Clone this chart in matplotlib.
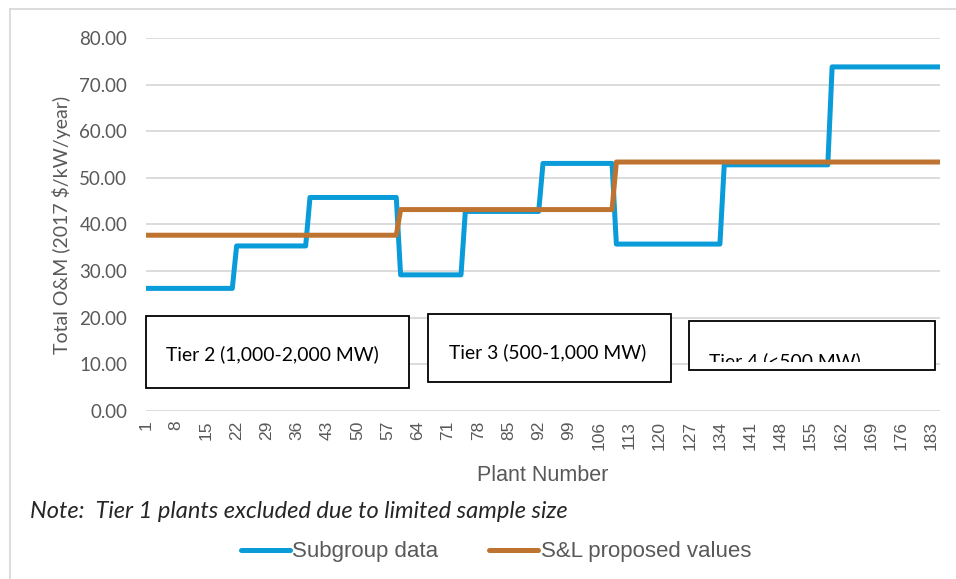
import numpy as np
import matplotlib
matplotlib.use("Agg")
import matplotlib.pyplot as plt
from matplotlib.patches import Rectangle
from matplotlib.lines import Line2D

# step segments: level and number of plants in each step
blue_levels = [26.3, 35.4, 45.8, 29.2, 42.8, 53.1, 35.8, 52.8, 73.8]
blue_counts = [21, 17, 21, 15, 18, 17, 25, 25, 26]
orange_levels = [37.7, 43.2, 53.4]
orange_counts = [59, 50, 76]

subgroup = np.repeat(blue_levels, blue_counts)
proposed = np.repeat(orange_levels, orange_counts)
plants = np.arange(1, len(subgroup) + 1)

tick_plants = list(range(1, len(plants) + 1, 7))
y_ticks = [0, 10, 20, 30, 40, 50, 60, 70, 80]

tier_labels = ["Tier 2 (1,000-2,000 MW)", "Tier 3 (500-1,000 MW)", "Tier 4 (<500 MW)"]

W, H = 956, 579
FONT = "Lato"
NARROW = ["Liberation Sans Narrow", "Liberation Sans"]
GREY = "#595959"

fig = plt.figure(figsize=(W / 100, H / 100), dpi=100)
fig.patch.set_facecolor("white")


def fx(px):
    return px / W


def fy(py):
    return 1 - py / H


ax = fig.add_axes([fx(146), fy(411), fx(940) - fx(146), fy(38) - fy(411)])
ax.plot(plants, subgroup, color="#0A9BD9", lw=3.6, solid_capstyle="round",
        solid_joinstyle="round", label="Subgroup data", zorder=3)
ax.plot(plants, proposed, color="#BE7430", lw=3.6, solid_capstyle="round",
        solid_joinstyle="round", label="S&L proposed values", zorder=4)

ax.set_xlim(1, len(plants))
ax.set_ylim(0, 80)
ax.set_yticks(y_ticks)
ax.set_yticklabels([f"{v:.2f}" for v in y_ticks], fontsize=13.5, color=GREY, family=FONT)
ax.set_xticks(tick_plants)
ax.set_xticklabels([str(t) for t in tick_plants], rotation=90, fontsize=12.5,
                   color=GREY, family="Liberation Sans")
ax.tick_params(axis="both", length=0)
ax.tick_params(axis="y", pad=13.5)
ax.tick_params(axis="x", pad=7)
ax.grid(axis="y", color="#D9D9D9", lw=1.3)
ax.set_axisbelow(True)
for s in ax.spines.values():
    s.set_visible(False)

ax.set_xlabel("Plant Number", fontsize=15.5, color=GREY, family=NARROW, labelpad=11)
ax.set_ylabel("Total O&M (2017 $/kW/year)", fontsize=14, color=GREY, family=FONT,
              labelpad=6)

# tier text boxes (in pixel positions of the figure)
boxes = [(146, 316, 409, 388), (428, 314, 671, 382), (689, 321, 935, 370)]
text_pos = [(166, 354), (449, 352), (709, 361)]
for (x0, y0, x1, y1), (tx, ty), lab in zip(boxes, text_pos, tier_labels):
    r = Rectangle((fx(x0), fy(y1)), fx(x1) - fx(x0), fy(y0) - fy(y1),
                  transform=fig.transFigure, facecolor="white", edgecolor="black",
                  lw=1.3, zorder=5)
    fig.add_artist(r)
    t = fig.text(fx(tx), fy(ty), lab, fontsize=13.9, family=FONT, color="black",
                 ha="left", va="center", zorder=6)
    if lab.startswith("Tier 4"):
        # the last box cuts its text off, as in the original
        clip = Rectangle((fx(x0), fy(362)), fx(x1) - fx(x0), fy(y0) - fy(362),
                         transform=fig.transFigure, facecolor="none", edgecolor="none")
        t.set_clip_path(clip)
        t.set_clip_on(True)

fig.text(fx(30), fy(512), "Note:  Tier 1 plants excluded due to limited sample size",
         fontsize=17, style="italic", family=FONT, color="#262626", va="center")

leg = fig.legend(loc="center", bbox_to_anchor=(fx(496), fy(552)), ncol=2, frameon=False,
                 prop={"family": NARROW, "size": 16}, handlelength=2.2, handletextpad=0.1,
                 columnspacing=2.3)
for txt in leg.get_texts():
    txt.set_color(GREY)

# light frame of the chart area
fig.add_artist(Line2D([fx(10), 1], [fy(9), fy(9)], transform=fig.transFigure,
                      color="#D9D9D9", lw=1.3))
fig.add_artist(Line2D([fx(10), fx(10)], [fy(9), 0], transform=fig.transFigure,
                      color="#D9D9D9", lw=1.3))

fig.savefig("out.png", dpi=100)
